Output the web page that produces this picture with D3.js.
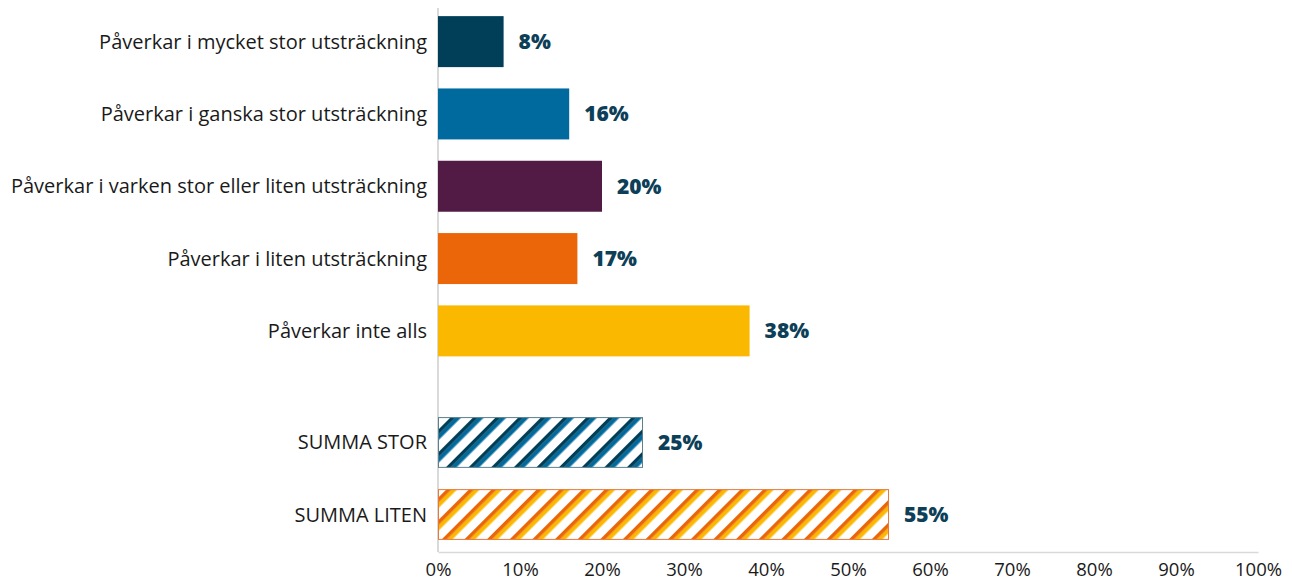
<!DOCTYPE html>
<html><head><meta charset="utf-8">
<script src="https://cdn.jsdelivr.net/npm/d3@7/dist/d3.min.js"></script>
<style>
body{margin:0;background:#fff;}
svg{display:block;}
.cat{font-family:"Open Sans",sans-serif;font-size:20px;fill:#1a1a1a;}
.val{font-family:"Open Sans",sans-serif;font-weight:800;font-size:21px;fill:#0d3f58;}
.tick text{font-family:"Open Sans",sans-serif;font-size:18.5px;fill:#1a1a1a;}
</style></head><body>
<svg id="c" width="1292" height="582"></svg>
<script>
const categories = [
  "Påverkar i mycket stor utsträckning",
  "Påverkar i ganska stor utsträckning",
  "Påverkar i varken stor eller liten utsträckning",
  "Påverkar i liten utsträckning",
  "Påverkar inte alls"
];
const values = [8, 16, 20, 17, 38];
const colors = ["#003f57", "#006a9e", "#521b45", "#ea6608", "#fab900"];
const sumCategories = ["SUMMA STOR", "SUMMA LITEN"];
const sumValues = [25, 55];
const tickValues = [0,10,20,30,40,50,60,70,80,90,100];
const tickLabels = ["0%","10%","20%","30%","40%","50%","60%","70%","80%","90%","100%"];

const svg = d3.select("#c");
const x = d3.scaleLinear().domain([0,100]).range([438,1258]);
const y1 = d3.scaleBand().domain(categories).range([5.5,367]).paddingInner(0.295).paddingOuter(0.147);
const y2 = d3.scaleBand().domain(sumCategories).range([406.5,550.5]).paddingInner(0.295).paddingOuter(0.147);

const defs = svg.append("defs");
function stripes(id, c1, c2){
  const p = defs.append("pattern").attr("id",id).attr("patternUnits","userSpaceOnUse")
    .attr("width",16).attr("height",16).attr("patternTransform","translate(438,0) rotate(45)");
  p.append("rect").attr("width",16).attr("height",16).attr("fill","#fff");
  p.append("rect").attr("x",0).attr("width",3.8).attr("height",16).attr("fill",c1);
  p.append("rect").attr("x",3.8).attr("width",3.8).attr("height",16).attr("fill",c2);
}
stripes("hStor","#003f57","#006a9e");
stripes("hLiten","#ea6608","#fab900");

svg.append("line").attr("x1",438).attr("x2",438).attr("y1",8).attr("y2",552)
  .attr("stroke","#d9d9d9").attr("stroke-width",2);

const xAxis = d3.axisBottom(x).tickValues(tickValues).tickSize(0)
  .tickFormat((d,i)=>tickLabels[i]);
const gx = svg.append("g").attr("class","x").attr("transform","translate(0,552)").call(xAxis);
gx.select(".domain").attr("stroke","#d9d9d9").attr("stroke-width",1.5);
gx.selectAll(".tick text").attr("dy",0).attr("y",24);

svg.selectAll("rect.bar").data(categories).join("rect").attr("class","bar")
  .attr("x",x(0)).attr("y",d=>y1(d)).attr("height",y1.bandwidth())
  .attr("width",(d,i)=>x(values[i])-x(0)).attr("fill",(d,i)=>colors[i]);
svg.selectAll("text.vlab").data(categories).join("text").attr("class","val vlab")
  .attr("x",(d,i)=>x(values[i])+15).attr("y",d=>y1(d)+y1.bandwidth()/2).attr("dy","0.36em")
  .text((d,i)=>values[i]+"%");
svg.selectAll("text.clab").data(categories).join("text").attr("class","cat clab")
  .attr("x",427).attr("y",d=>y1(d)+y1.bandwidth()/2).attr("dy","0.35em").attr("text-anchor","end")
  .text(d=>d);

const sumFill = ["url(#hStor)","url(#hLiten)"];
const sumStroke = ["#5b808c","#e8783a"];
svg.selectAll("rect.sbar").data(sumCategories).join("rect").attr("class","sbar")
  .attr("x",x(0)+0.5).attr("y",d=>y2(d)+0.5).attr("height",y2.bandwidth()-1)
  .attr("width",(d,i)=>x(sumValues[i])-x(0)-1).attr("fill",(d,i)=>sumFill[i])
  .attr("stroke",(d,i)=>sumStroke[i]).attr("stroke-width",1);
svg.selectAll("text.svlab").data(sumCategories).join("text").attr("class","val svlab")
  .attr("x",(d,i)=>x(sumValues[i])+15).attr("y",d=>y2(d)+y2.bandwidth()/2).attr("dy","0.36em")
  .text((d,i)=>sumValues[i]+"%");
svg.selectAll("text.sclab").data(sumCategories).join("text").attr("class","cat sclab")
  .attr("x",427).attr("y",d=>y2(d)+y2.bandwidth()/2).attr("dy","0.35em").attr("text-anchor","end")
  .text(d=>d);
</script></body></html>
